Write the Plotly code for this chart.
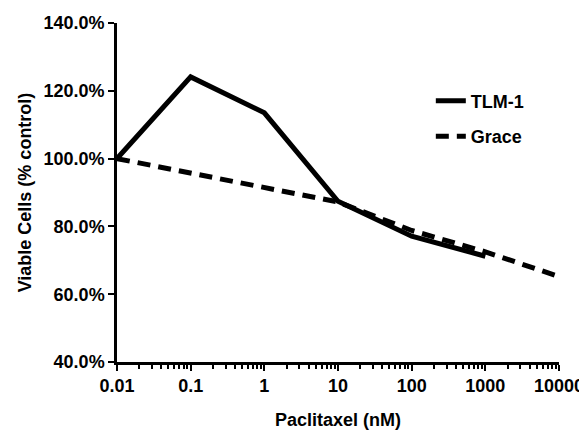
import plotly.graph_objects as go

conc = [0.01, 0.1, 1, 10, 100, 1000]
tlm1 = [100.0, 124.1, 113.5, 87.4, 77.1, 71.2]
conc_grace = [0.01, 0.1, 1, 10, 100, 1000, 10000]
grace = [100.0, 95.8, 91.5, 87.2, 78.8, 72.5, 65.2]

ytick_vals = [40, 60, 80, 100, 120, 140]
ytick_text = ["40.0%", "60.0%", "80.0%", "100.0%", "120.0%", "140.0%"]

FAM = "Liberation Sans, Arial, sans-serif"
FS = 18
bold = dict(family=FAM, size=FS, color="black", weight="bold")

fig = go.Figure()
fig.add_trace(go.Scatter(x=conc, y=tlm1, mode="lines", name="TLM-1", showlegend=True,
                         line=dict(color="black", width=5), legend="legend"))
fig.add_trace(go.Scatter(x=conc_grace, y=grace, mode="lines", name="Grace", showlegend=True,
                         line=dict(color="black", width=5, dash="13px,8px"), legend="legend2"))

fig.update_layout(
    width=579, height=423,
    margin=dict(l=109, r=28, t=15, b=69),
    paper_bgcolor="white", plot_bgcolor="white",
    font=dict(family=FAM, size=FS, color="black"),
    showlegend=True,
    legend=dict(x=0.71, y=0.77, xanchor="left", yanchor="middle",
                font=bold, bgcolor="rgba(0,0,0,0)"),
    legend2=dict(x=0.71, y=0.665, xanchor="left", yanchor="middle",
                 font=bold, bgcolor="rgba(0,0,0,0)"),
)
fig.update_xaxes(
    type="log", range=[-2, 4], automargin=False,
    tickmode="linear", tick0=0, dtick=1, tickformat="~r",
    tickfont=bold,
    showgrid=False, zeroline=False,
    showline=True, linecolor="black", linewidth=2.5,
    ticks="outside", ticklen=6, tickwidth=2, tickcolor="black",
    minor=dict(dtick="D1", ticks="outside", ticklen=4,
               tickwidth=1.5, tickcolor="black", showgrid=False),
    title=dict(text="Paclitaxel (nM)", font=bold, standoff=19),
)
fig.update_yaxes(
    range=[40, 140], automargin=False,
    tickvals=ytick_vals, ticktext=ytick_text,
    tickfont=bold,
    showgrid=False, zeroline=False,
    showline=True, linecolor="black", linewidth=2.5,
    ticks="outside", ticklen=6, tickwidth=2, tickcolor="black",
    title=dict(text="Viable Cells (% control)", font=bold, standoff=8),
)

fig.write_html("out.html")
